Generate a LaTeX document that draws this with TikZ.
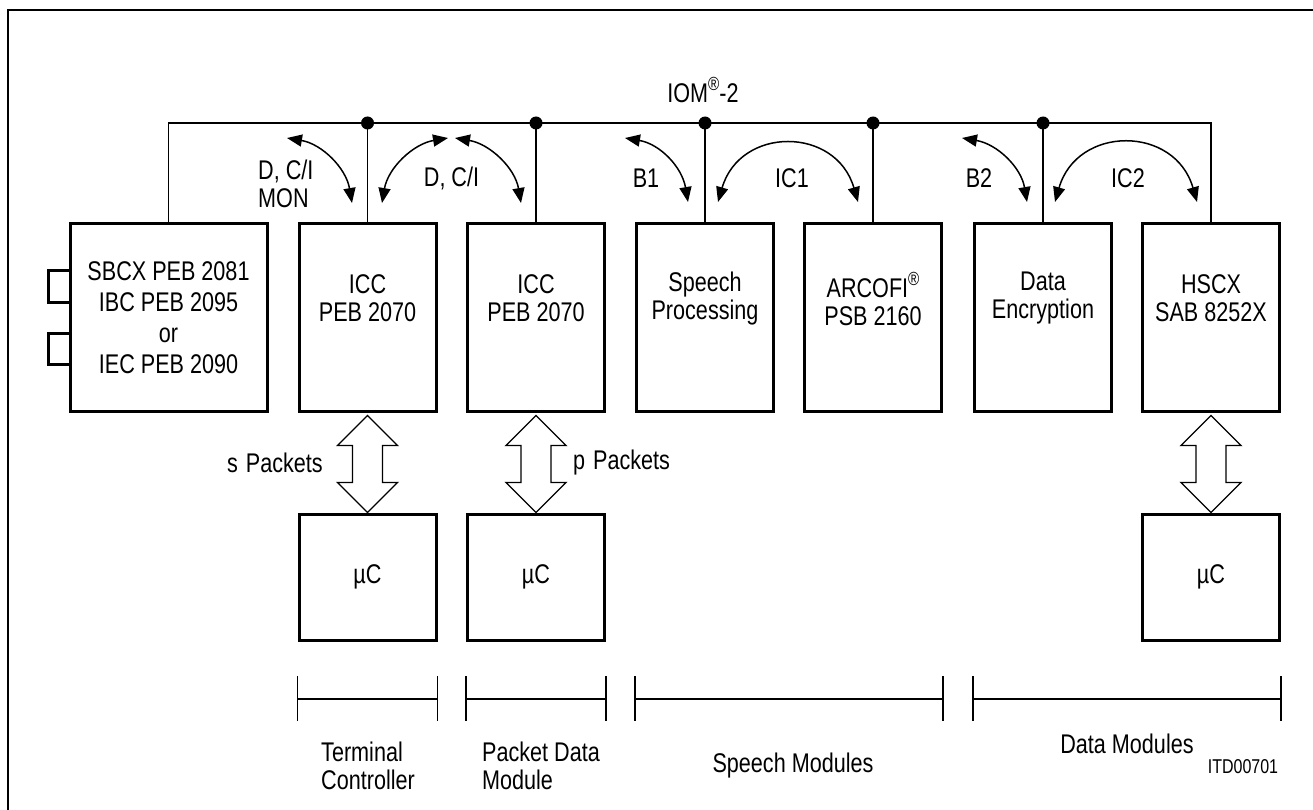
\documentclass[tikz,border=0pt]{standalone}
\usepackage{fontspec}
\setmainfont{Liberation Sans}[FakeStretch=0.8]
\usetikzlibrary{arrows.meta,calc}
\newcommand{\regmk}{\raisebox{12pt}{\fontsize{19}{19}\selectfont ®}}
\begin{document}
\begin{tikzpicture}[x=1pt,y=-1pt,
  box/.style={draw,line width=3pt,minimum width=137pt,minimum height=187pt,inner sep=0pt},
  mcbox/.style={draw,line width=3pt,minimum width=137pt,minimum height=126pt,inner sep=0pt,font=\fontsize{27}{28}\selectfont},
  txt/.style={font=\fontsize{27}{28}\selectfont,align=center,inner sep=0pt},
  bus/.style={line width=1.5pt},
  dot/.style={circle,fill,inner sep=0pt,minimum size=13pt},
  dir/.style={line width=1.5pt,{Triangle[length=15pt,width=12pt]}-{Triangle[length=15pt,width=12pt]}},
  dbl/.style={draw,line width=1.3pt,fill=white,line join=miter},
  brk/.style={line width=1.3pt},
  sq/.style={line width=3pt}
]
\useasboundingbox (0,0) rectangle (1313,810);
\draw[line width=2pt] (8,810) -- (8,10) -- (1313,10);

% boxes
\node[box,minimum width=197pt] (lb) at (168.5,317.5) {};
\node[box] (icc1) at (367.5,317.5) {};
\node[box] (icc2) at (536,317.5) {};
\node[box] (sp) at (705,317.5) {};
\node[box] (arco) at (873,317.5) {};
\node[box] (de) at (1043,317.5) {};
\node[box] (hs) at (1211,317.5) {};
\node[mcbox] (mc1) at (367.5,577) {µC};
\node[mcbox] (mc2) at (536,577) {µC};
\node[mcbox] (mc3) at (1211,577) {µC};

% box texts
\node[txt,font=\fontsize{27}{31}\selectfont] (lbt) at (lb.center) {SBCX PEB 2081\\IBC PEB 2095\\or\\IEC PEB 2090};
\node[txt] (icc1t) at ([yshift=19pt]icc1.center) {ICC\\PEB 2070};
\node[txt] (icc2t) at ([yshift=19pt]icc2.center) {ICC\\PEB 2070};
\node[txt] (spt) at ([yshift=19pt]sp.center) {Speech\\Processing};
\node[txt] (arcot) at ([yshift=19pt]arco.center) {ARCOFI\regmk\\PSB 2160};
\node[txt] (det) at ([yshift=19pt]de.center) {Data\\Encryption};
\node[txt] (hst) at ([yshift=19pt]hs.center) {HSCX\\SAB 8252X};

% small squares
\draw[sq] (lb.west |- 0,270) -- (48,270) -- (48,302) -- (lb.west |- 0,302);
\draw[sq] (lb.west |- 0,333) -- (48,333) -- (48,364) -- (lb.west |- 0,364);

% bus
\coordinate (bl) at (168,123);
\draw[bus] (lb.north) -- (lb.north |- bl) -- (hs.north |- bl) -- (hs.north);
\foreach \n in {icc1,icc2,sp,arco,de}{
  \draw[bus] (\n.north) -- (\n.north |- bl) node[dot]{};
}
\node[txt,anchor=base] (iom) at (703,103) {IOM\regmk-2};

% direction arcs
\coordinate (a1s) at (287,138); \coordinate (a1e) at (352,203);
\coordinate (a2s) at (382,203); \coordinate (a2e) at (448,138);
\coordinate (a3s) at (455,138); \coordinate (a3e) at (521,203);
\coordinate (a4s) at (625,138); \coordinate (a4e) at (688,202);
\coordinate (a5s) at (718,202); \coordinate (a5e) at (858,202);
\coordinate (a6s) at (962,138); \coordinate (a6e) at (1027,202);
\coordinate (a7s) at (1055,202); \coordinate (a7e) at (1197,202);
\draw[dir] (a1s) .. controls +(35,6) and +(-6,-35) .. (a1e);
\draw[dir] (a2s) .. controls +(6,-35) and +(-35,6) .. (a2e);
\draw[dir] (a3s) .. controls +(35,6) and +(-6,-35) .. (a3e);
\draw[dir] (a4s) .. controls +(35,6) and +(-6,-35) .. (a4e);
\draw[dir] (a5s) .. controls +(22,-76) and +(-22,-76) .. (a5e);
\draw[dir] (a6s) .. controls +(35,6) and +(-6,-35) .. (a6e);
\draw[dir] (a7s) .. controls +(22,-77) and +(-22,-77) .. (a7e);

\node[txt,align=left,anchor=west] (l1) at (258,184) {D, C/I\\MON};
\node[txt] (l2) at (451.5,178) {D, C/I};
\node[txt] (l3) at (646,178) {B1};
\node[txt] (l4) at (792,178) {IC1};
\node[txt] (l5) at (979,178) {B2};
\node[txt] (l6) at (1128,178) {IC2};

% double arrows
\foreach \t/\b in {icc1/mc1,icc2/mc2,hs/mc3}{
  \draw[dbl] ($(\t.south)+(0,3)$) -- ++(30,30) -- ++(-15,0) -- ++(0,37) -- ++(15,0)
     -- ++(-30,30) -- ++(-30,-30) -- ++(15,0) -- ++(0,-37) -- ++(-15,0) -- cycle;
}
\node[txt,anchor=east] (sp1) at (323,463) {s\hspace{8pt}Packets};
\node[txt,anchor=west] (pp1) at (573,463) {p\hspace{8pt}Packets};

% brackets
\foreach \a/\b in {icc1/icc1,icc2/icc2,sp/arco,de/hs}{
  \draw[brk] (\a.west |- 0,676) -- (\a.west |- 0,721);
  \draw[brk] (\b.east |- 0,676) -- (\b.east |- 0,721);
  \draw[brk] (\a.west |- 0,699) -- (\b.east |- 0,699);
}
\node[txt,align=left] (g1) at (368,766) {Terminal\\Controller};
\node[txt,align=left] (g2) at (541,766) {Packet Data\\Module};
\node[txt] (g3) at (793,766) {Speech Modules};
\node[txt] (g4) at (1127,744) {Data Modules};
\node[font=\fontsize{20}{24}\selectfont,inner sep=0pt] (itd) at (1243,767) {ITD00701};
\end{tikzpicture}
\end{document}
